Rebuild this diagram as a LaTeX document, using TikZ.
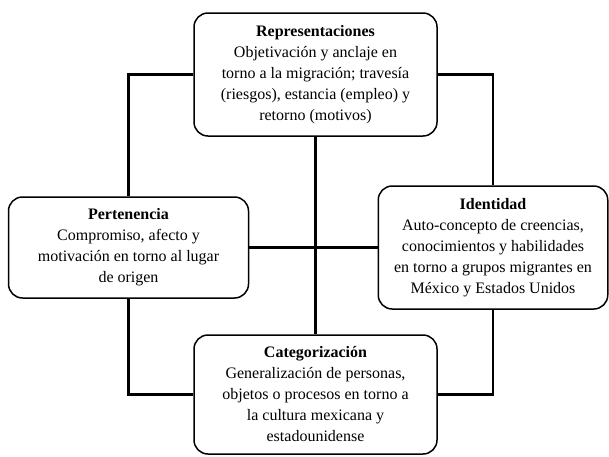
\documentclass[tikz,border=0pt]{standalone}
\usepackage{fontspec}
\setmainfont{Liberation Serif}
\begin{document}
\begin{tikzpicture}[x=1pt, y=-1pt,
    box/.style={draw, fill=white, line width=1.5pt, rounded corners=14pt,
      align=center, inner sep=0pt, font=\fontsize{16}{21}\selectfont},
    link/.style={line width=2.6pt}]
  \fill [white] (0,0) rectangle (609,456);
  \useasboundingbox (0,0) rectangle (609,456);
  \node [box, minimum width=243pt, minimum height=123pt] (repr) at (315.5,74.5)
    {\textbf{Representaciones}\\ Objetivación y anclaje en\\ torno a la migración; travesía\\
     (riesgos),  estancia (empleo) y\\ retorno  (motivos)};
  \node [box, minimum width=240pt, minimum height=101pt] (pert) at (128.5,247.5)
    {\textbf{Pertenencia}\\ Compromiso, afecto y\\ motivación en torno al lugar\\ de origen};
  \node [box, minimum width=229.5pt, minimum height=123pt] (iden) at (493,247.5)
    {\textbf{Identidad}\\ Auto-concepto de creencias,\\ conocimientos y habilidades\\
     en torno a grupos migrantes en\\ México y Estados Unidos};
  \node [box, minimum width=243pt, minimum height=119pt] (cat) at (315.5,394.5)
    {\textbf{Categorización}\\ Generalización de personas,\\ objetos o procesos en torno a\\
     la cultura mexicana y\\ estadounidense};
  % lineas
  \draw [link] (repr.west) -| (pert.north);
  \draw [link] (repr.east) -| (iden.north);
  \draw [link] (pert.south) |- (cat.west);
  \draw [link] (iden.south) |- (cat.east);
  \draw [link] (repr.south) -- (cat.north);
  \draw [link] (pert.east) -- (iden.west);
\end{tikzpicture}
\end{document}
